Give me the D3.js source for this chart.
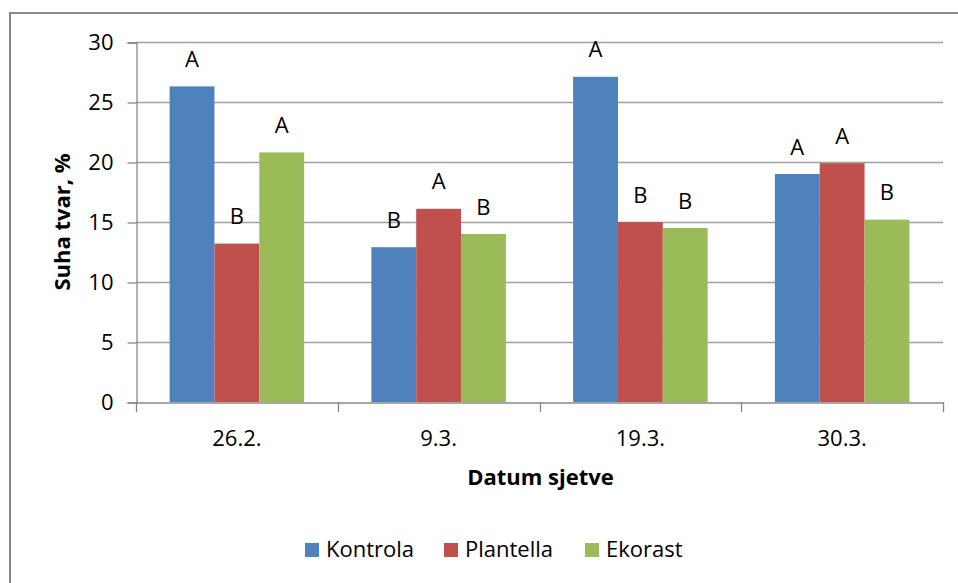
<!DOCTYPE html>
<html>
<head>
<meta charset="utf-8">
<script src="https://cdn.jsdelivr.net/npm/d3@7/dist/d3.min.js"></script>
<style>
  html, body { margin: 0; padding: 0; background: #fff; }
  svg { display: block; font-family: "Open Sans", "Noto Sans", sans-serif; }
</style>
</head>
<body>
<svg id="chart" width="958" height="583"></svg>
<script>
const categories = ["26.2.", "9.3.", "19.3.", "30.3."];
const seriesNames = ["Kontrola", "Plantella", "Ekorast"];
const kontrola = [26.3, 12.9, 27.1, 19.0];
const plantella = [13.2, 16.1, 15.0, 19.9];
const ekorast = [20.8, 14.0, 14.5, 15.2];
const kontrolaLetters = ["A", "B", "A", "A"];
const plantellaLetters = ["B", "A", "B", "A"];
const ekorastLetters = ["A", "B", "B", "B"];
const yTicks = [0, 5, 10, 15, 20, 25, 30];
const colors = ["#4F81BD", "#C0504D", "#9BBB59"];

const seriesValues = [kontrola, plantella, ekorast];
const seriesLetters = [kontrolaLetters, plantellaLetters, ekorastLetters];

const svg = d3.select("#chart");
const pL = 136, pR = 943, pT = 42, pB = 402;

// outer chart frame
svg.append("rect").attr("x", 10).attr("y", 13).attr("width", 960).attr("height", 600)
  .attr("fill", "none").attr("stroke", "#888").attr("stroke-width", 2);

const x0 = d3.scaleBand().domain(categories).range([pL, pR]).paddingInner(0).paddingOuter(0);
const bw = x0.bandwidth() / 4.5;
const x1 = d3.scaleBand().domain(seriesNames).range([0, bw * 3]);
const y = d3.scaleLinear().domain([0, 30]).range([pB, pT]);

// gridlines
svg.append("g").selectAll("line").data(yTicks.filter(t => t > 0)).join("line")
  .attr("x1", pL).attr("x2", pR)
  .attr("y1", d => y(d) + 0.5).attr("y2", d => y(d) + 0.5)
  .attr("stroke", "#a0a0a0").attr("stroke-width", 1.3);

// y axis
const yAxis = d3.axisLeft(y).tickValues(yTicks).tickSize(9).tickPadding(14);
const gy = svg.append("g").attr("transform", `translate(${pL + 0.5},0.5)`).call(yAxis);
gy.select(".domain").attr("stroke", "#888").attr("stroke-width", 1.3);
gy.selectAll(".tick line").attr("stroke", "#888").attr("stroke-width", 1.3);
gy.selectAll(".tick text").attr("font-size", 22).attr("fill", "#000")
  .attr("font-family", "Open Sans, sans-serif");

// bars
const groups = svg.append("g").selectAll("g").data(categories).join("g")
  .attr("transform", d => `translate(${x0(d) + (x0.bandwidth() - bw * 3) / 2},0)`);

groups.selectAll("rect").data((d, i) => seriesNames.map((s, j) => ({ s, j, v: seriesValues[j][i] })))
  .join("rect")
  .attr("x", d => x1(d.s))
  .attr("width", x1.bandwidth())
  .attr("y", d => y(d.v))
  .attr("height", d => y(0) - y(d.v))
  .attr("fill", d => colors[d.j]);

groups.selectAll("text").data((d, i) => seriesNames.map((s, j) => ({ s, j, v: seriesValues[j][i], l: seriesLetters[j][i] })))
  .join("text")
  .attr("x", d => x1(d.s) + x1.bandwidth() / 2)
  .attr("y", d => y(d.v) - 19.5)
  .attr("text-anchor", "middle")
  .attr("font-size", 22).attr("fill", "#000")
  .text(d => d.l);

// x axis
const xAxis = d3.axisBottom(x0).tickSize(0).tickPadding(28);
const gx = svg.append("g").attr("transform", `translate(0,${pB + 0.5})`).call(xAxis);
gx.select(".domain").attr("stroke", "#888").attr("stroke-width", 1.3);
gx.selectAll(".tick text").attr("font-size", 22).attr("fill", "#000")
  .attr("font-family", "Open Sans, sans-serif");
// category separators
const sepPos = categories.map(c => x0(c)).concat([x0(categories[categories.length - 1]) + x0.bandwidth()]);
svg.append("g").selectAll("line").data(sepPos).join("line")
  .attr("x1", d => Math.round(d) + 0.5).attr("x2", d => Math.round(d) + 0.5)
  .attr("y1", pB).attr("y2", pB + 10)
  .attr("stroke", "#888").attr("stroke-width", 1.3);

// axis titles
svg.append("text").attr("x", (pL + pR) / 2 + 1).attr("y", 485)
  .attr("text-anchor", "middle").attr("font-size", 22).attr("font-weight", "bold")
  .attr("fill", "#000").text("Datum sjetve");
svg.append("text").attr("transform", `translate(70,${(pT + pB) / 2}) rotate(-90)`)
  .attr("text-anchor", "middle").attr("font-size", 22).attr("font-weight", "bold")
  .attr("fill", "#000").text("Suha tvar, %");

// legend
const legendX = [305, 444, 585];
const lg = svg.append("g").selectAll("g").data(seriesNames).join("g")
  .attr("transform", (d, i) => `translate(${legendX[i]},543)`);
lg.append("rect").attr("width", 14).attr("height", 14).attr("fill", (d, i) => colors[i]);
lg.append("text").attr("x", 21).attr("y", 14).attr("font-size", 22).attr("fill", "#000").text(d => d);
</script>
</body>
</html>
